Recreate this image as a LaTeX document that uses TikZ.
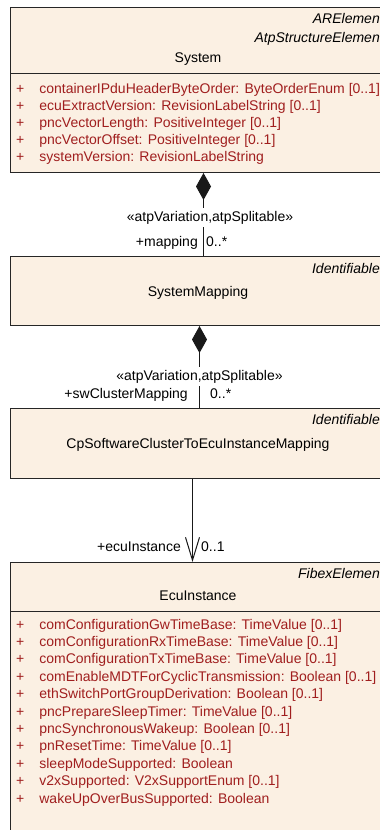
\documentclass[tikz,border=0pt]{standalone}
\usepackage{fontspec}
\setmainfont{Liberation Sans}
\usetikzlibrary{arrows.meta}
\definecolor{boxfill}{RGB}{251,240,227}
\definecolor{attr}{RGB}{160,30,30}
\tikzset{
  lbl/.style={inner sep=0pt, font=\fontsize{14}{17}\selectfont},
  stereo/.style={lbl, fill=white, inner ysep=3pt, inner xsep=1pt, anchor=base},
  parent/.style={inner sep=0pt, font=\fontsize{14}{17}\selectfont\itshape, anchor=base east},
  umlbox/.style={draw=black!85, fill=boxfill, line width=1pt, anchor=north west, minimum width=378pt, inner sep=0pt},
  attrs/.style={inner sep=0pt, text=attr, anchor=base west, align=left},
  conn/.style={draw=black!90, line width=1pt},
}
\begin{document}
\begin{tikzpicture}[x=1pt,y=-1pt]
\useasboundingbox (0,0) rectangle (380,830);
\clip (0,0) rectangle (380,830);

% System
\node[umlbox, minimum height=165pt] (sys) at (10,7) {};
\node[parent] (sysp1) at (380,23) {ARElemen};
\node[parent] (sysp2) at (380,42) {AtpStructureElemen};
\node[lbl, anchor=base] (sysname) at (198,62) {System};
\draw[black!85, line width=1pt] ([yshift=-66pt]sys.north west) -- ([yshift=-66pt]sys.north east);
\node[attrs, font=\fontsize{14}{17}\selectfont] (sysattr) at (16,93) {%
\begin{tabular}[t]{@{}l@{\hspace{15pt}}l@{}}
+ & containerIPduHeaderByteOrder: ByteOrderEnum [0..1]\\
+ & ecuExtractVersion: RevisionLabelString [0..1]\\
+ & pncVectorLength: PositiveInteger [0..1]\\
+ & pncVectorOffset: PositiveInteger [0..1]\\
+ & systemVersion: RevisionLabelString
\end{tabular}};

% SystemMapping
\node[umlbox, minimum height=69pt] (map) at (10,256) {};
\node[parent] (mapp) at (380,273) {Identifiable};
\node[lbl, anchor=base] (mapname) at (198,296) {SystemMapping};

% CpSoftwareClusterToEcuInstanceMapping
\node[umlbox, minimum height=70pt] (cp) at (10,408) {};
\node[parent] (cpp) at (380,424) {Identifiable};
\node[lbl, anchor=base] (cpname) at (198,448) {CpSoftwareClusterToEcuInstanceMapping};

% EcuInstance
\node[umlbox, minimum height=290pt] (ecu) at (10,562) {};
\node[parent] (ecup) at (380,578) {FibexElemen};
\node[lbl, anchor=base] (ecuname) at (198,600) {EcuInstance};
\draw[black!85, line width=1pt] ([yshift=-49pt]ecu.north west) -- ([yshift=-49pt]ecu.north east);
\node[attrs, font=\fontsize{14}{17.4}\selectfont] (ecuattr) at (16,629) {%
\begin{tabular}[t]{@{}l@{\hspace{15pt}}l@{}}
+ & comConfigurationGwTimeBase: TimeValue [0..1]\\
+ & comConfigurationRxTimeBase: TimeValue [0..1]\\
+ & comConfigurationTxTimeBase: TimeValue [0..1]\\
+ & comEnableMDTForCyclicTransmission: Boolean [0..1]\\
+ & ethSwitchPortGroupDerivation: Boolean [0..1]\\
+ & pncPrepareSleepTimer: TimeValue [0..1]\\
+ & pncSynchronousWakeup: Boolean [0..1]\\
+ & pnResetTime: TimeValue [0..1]\\
+ & sleepModeSupported: Boolean\\
+ & v2xSupported: V2xSupportEnum [0..1]\\
+ & wakeUpOverBusSupported: Boolean
\end{tabular}};

% connectors
\draw[conn, {Diamond[length=27pt,width=15pt]}-] ([xshift=4pt]sys.south) -- ([xshift=4pt]map.north);
\node[stereo] (st1) at (210,221) {«atpVariation,atpSplitable»};
\node[lbl, anchor=base east] (r1) at (198,246) {+mapping};
\node[lbl, anchor=base west] (m1) at (206,246) {0..*};

\draw[conn, {Diamond[length=27pt,width=15pt]}-] (map.south) -- (cp.north);
\node[stereo] (st2) at (199.5,380) {«atpVariation,atpSplitable»};
\node[lbl, anchor=base east] (r2) at (188,398) {+swClusterMapping};
\node[lbl, anchor=base west] (m2) at (210,398) {0..*};

\draw[conn, -{Straight Barb[length=23pt,width=14pt]}] ([xshift=-7pt]cp.south) -- ([xshift=-7pt]ecu.north);
\node[lbl, anchor=base east] (r3) at (181,551) {+ecuInstance};
\node[lbl, anchor=base west] (m3) at (201,551) {0..1};
\end{tikzpicture}
\end{document}
